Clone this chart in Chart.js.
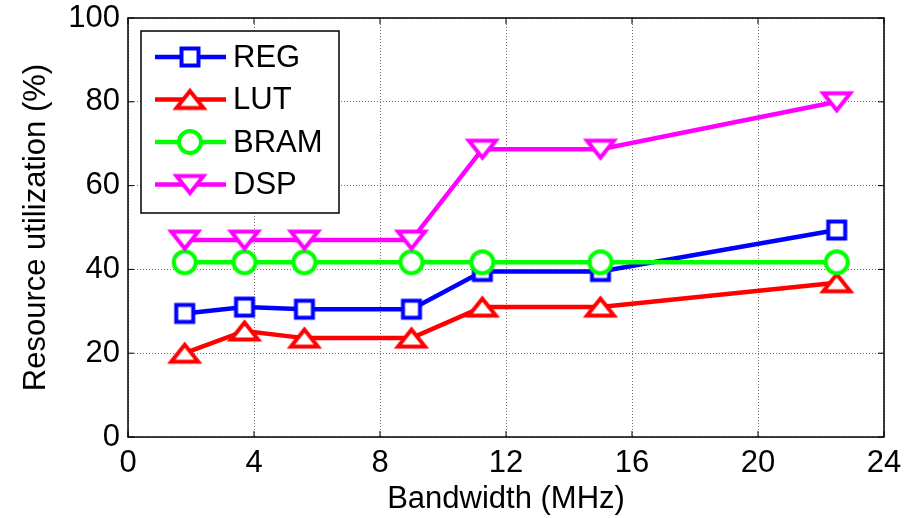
<!DOCTYPE html>
<html>
<head>
<meta charset="utf-8">
<title>Resource utilization</title>
<script src="https://cdn.jsdelivr.net/npm/chart.js@4.4.0/dist/chart.umd.min.js"></script>
<style>
  html, body { margin: 0; padding: 0; background: #fff; }
  #wrap { width: 912px; height: 518px; }
</style>
</head>
<body>
<div id="wrap"><canvas id="chart" width="912" height="518"></canvas></div>
<script>
// bandwidth points (MHz) and utilization per resource (%)
const bandwidth = [1.8, 3.7, 5.6, 9, 11.25, 15, 22.5];
const regUtil  = [29.5, 31, 30.5, 30.5, 39.5, 39.5, 49.4];
const lutUtil  = [20, 25.3, 23.6, 23.6, 31, 31, 36.8];
const bramUtil = [41.7, 41.7, 41.7, 41.7, 41.7, 41.7, 41.7];
const dspUtil  = [47, 47, 47, 47, 68.7, 68.7, 80];
const xTicks = [0, 4, 8, 12, 16, 20, 24];
const yTicks = [0, 20, 40, 60, 80, 100];

const FONT = '"Liberation Sans", Arial, Helvetica, sans-serif';

// hollow marker bitmaps, centred on their bounding box
function makeMarker(shape, color) {
  const c = document.createElement('canvas');
  c.width = 40; c.height = 40;
  const g = c.getContext('2d');
  g.translate(20, 20);
  g.lineWidth = 4;
  g.lineJoin = 'miter';
  g.strokeStyle = color;
  g.fillStyle = '#fff';
  g.beginPath();
  if (shape === 'square') {
    g.rect(-8.5, -8.5, 17, 17);
  } else if (shape === 'circle') {
    g.arc(0, 0, 11, 0, Math.PI * 2);
  } else if (shape === 'up') {
    g.moveTo(0, -8.5); g.lineTo(13.5, 8.5); g.lineTo(-13.5, 8.5); g.closePath();
  } else {
    g.moveTo(0, 8.5); g.lineTo(13.5, -8.5); g.lineTo(-13.5, -8.5); g.closePath();
  }
  g.fill();
  g.stroke();
  return c;
}

function series(label, values, color, shape, order) {
  return {
    label: label,
    data: bandwidth.map((x, i) => ({ x: x, y: values[i] })),
    borderColor: color,
    borderWidth: 4.5,
    pointStyle: makeMarker(shape, color),
    pointRadius: 12,
    order: order,
    tension: 0
  };
}

const datasets = [
  series('REG', regUtil, '#0000ff', 'square', 4),
  series('LUT', lutUtil, '#ff0000', 'up', 3),
  series('BRAM', bramUtil, '#00ff00', 'circle', 2),
  series('DSP', dspUtil, '#ff00ff', 'down', 1)
];

// axes box, inward ticks and the boxed legend
const framePlugin = {
  id: 'frame',
  afterDatasetsDraw(chart) {
    const ctx = chart.ctx;
    const a = chart.chartArea;
    const xs = chart.scales.x, ys = chart.scales.y;
    ctx.save();
    ctx.strokeStyle = '#000';
    ctx.lineWidth = 1.5;
    ctx.strokeRect(a.left, a.top, a.right - a.left, a.bottom - a.top);
    ctx.lineWidth = 1;
    ctx.beginPath();
    xTicks.forEach(v => {
      const px = xs.getPixelForValue(v);
      ctx.moveTo(px, a.bottom); ctx.lineTo(px, a.bottom - 6);
      ctx.moveTo(px, a.top); ctx.lineTo(px, a.top + 6);
    });
    yTicks.forEach(v => {
      const py = ys.getPixelForValue(v);
      ctx.moveTo(a.left, py); ctx.lineTo(a.left + 6, py);
      ctx.moveTo(a.right, py); ctx.lineTo(a.right - 6, py);
    });
    ctx.stroke();

    // legend
    const lx = a.left + 13, ly = a.top + 13, lw = 198, lh = 182;
    ctx.fillStyle = '#fff';
    ctx.fillRect(lx, ly, lw, lh);
    ctx.lineWidth = 1.5;
    ctx.strokeRect(lx, ly, lw, lh);
    ctx.font = '31px ' + FONT;
    ctx.textBaseline = 'middle';
    ctx.textAlign = 'left';
    datasets.forEach((ds, i) => {
      const y = ly + 26 + i * 42.5;
      ctx.strokeStyle = ds.borderColor;
      ctx.lineWidth = 4.5;
      ctx.beginPath();
      ctx.moveTo(lx + 14, y); ctx.lineTo(lx + 85, y);
      ctx.stroke();
      const m = ds.pointStyle;
      ctx.drawImage(m, lx + 49 - m.width / 2, y - m.height / 2);
      ctx.fillStyle = '#000';
      ctx.fillText(ds.label, lx + 92, y + 1);
    });
    ctx.restore();
  }
};

new Chart(document.getElementById('chart'), {
  type: 'line',
  data: { datasets: datasets },
  plugins: [framePlugin],
  options: {
    responsive: false,
    animation: false,
    devicePixelRatio: 1,
    layout: { padding: { top: 18, right: 28, left: 0, bottom: 0 } },
    plugins: { legend: { display: false }, tooltip: { enabled: false } },
    scales: {
      x: {
        type: 'linear',
        min: 0, max: 24,
        afterBuildTicks: s => { s.ticks = xTicks.map(v => ({ value: v })); },
        afterFit: s => { s.height = 81; s.paddingLeft = 0; s.paddingRight = 0; },
        grid: { color: 'rgba(0,0,0,0.55)', lineWidth: 1, drawTicks: false },
        border: { display: false, dash: [1, 2] },
        ticks: { color: '#000', padding: 8, maxRotation: 0, font: { family: FONT, size: 31 } },
        title: {
          display: true, text: 'Bandwidth (MHz)', color: '#000',
          padding: { top: 0, bottom: 0 },
          font: { family: FONT, size: 31 }
        }
      },
      y: {
        min: 0, max: 100,
        afterBuildTicks: s => { s.ticks = yTicks.map(v => ({ value: v })); },
        afterFit: s => { s.width = 128; s.paddingTop = 0; s.paddingBottom = 0; },
        grid: { color: 'rgba(0,0,0,0.55)', lineWidth: 1, drawTicks: false },
        border: { display: false, dash: [1, 2] },
        ticks: { color: '#000', padding: 8, font: { family: FONT, size: 31 } },
        title: {
          display: true, text: 'Resource utilization (%)', color: '#000',
          padding: { top: 18, bottom: 0 },
          font: { family: FONT, size: 31 }
        }
      }
    }
  }
});
</script>
</body>
</html>
